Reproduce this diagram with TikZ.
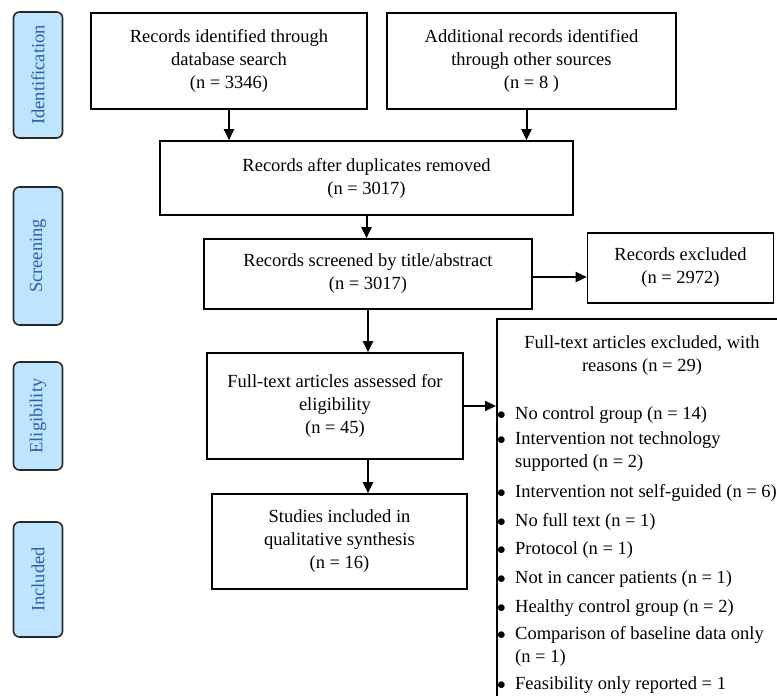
\documentclass[tikz,border=0pt]{standalone}
\usepackage{fontspec}
\setmainfont{Liberation Serif}
\usetikzlibrary{arrows.meta, positioning}
\definecolor{phasefill}{RGB}{191,228,255}
\definecolor{phasetext}{RGB}{46,96,170}
\definecolor{phasedraw}{RGB}{40,40,40}
\newcommand{\fsz}{\fontsize{18.5}{23}\selectfont}
\newcommand{\rdot}{$\bullet$}
\tikzset{
  % PRISMA flow boxes
  flowbox/.style={
    rectangle, draw=black, line width=1.6pt, fill=white,
    align=center, font=\fsz, inner sep=2pt
  },
  % phase labels on the left (rotated)
  phasebox/.style={
    rectangle, rounded corners=6pt, draw=phasedraw, fill=phasefill,
    line width=1.6pt, rotate=90, text=phasetext, font=\fsz,
    minimum height=49pt, inner sep=0pt
  },
  flowarrow/.style={-{Triangle[length=11pt,width=10pt]}, line width=2pt},
  reason/.style={anchor=west, font=\fsz, text height=13pt, text depth=4pt, inner sep=0pt}
}

\begin{document}
\begin{tikzpicture}[x=1pt, y=-1pt]
  \useasboundingbox (0,0) rectangle (777,696);
  \clip (0,0) rectangle (777,696);

  % Phases
  \node[phasebox, minimum width=126pt] (idph) at (38,75) {Identification};
  \node[phasebox, minimum width=138pt] (scph) at (38,256) {Screening};
  \node[phasebox, minimum width=108pt] (elph) at (38,416) {Eligibility};
  \node[phasebox, minimum width=115pt] (inph) at (38,579.5) {Included};

  % Identification
  \node[flowbox, minimum width=276pt, minimum height=96pt] (dbsearch) at (229,61)
    {Records identified through\\database search\\(n = 3346)};
  \node[flowbox, minimum width=289pt, minimum height=96pt] (other) at (531.5,61)
    {Additional records identified\\through other sources\\(n = 8 )};
  \node[flowbox, minimum width=413pt, minimum height=74pt] (dupl) at (366.5,178)
    {Records after duplicates removed\\(n = 3017)};

  % Screening
  \node[flowbox, minimum width=328pt, minimum height=70pt] (screen) at (368,274)
    {Records screened by title/abstract\\(n = 3017)};
  \node[flowbox, minimum width=186pt, minimum height=70pt] (excl) at (680.5,268)
    {Records excluded\\(n = 2972)};

  % Eligibility
  \node[flowbox, minimum width=256pt, minimum height=106pt] (fulltext) at (335,406)
    {Full-text articles assessed for\\eligibility\\(n = 45)};
  \node[flowbox, anchor=north west, minimum width=330pt, minimum height=420pt] (reasons) at (496,318) {};
  \node[font=\fsz, align=center] (rshead) at (642,356)
    {Full-text articles excluded, with\\reasons (n = 29)};
  \foreach \yy/\bl/\txt [count=\k] in {
      415/1/No control group (n = 14),
      440/1/Intervention not technology,
      463/0/supported (n = 2),
      493/1/Intervention not self-guided (n = 6),
      522/1/No full text (n = 1),
      550/1/Protocol (n = 1),
      579/1/Not in cancer patients (n = 1),
      608/1/Healthy control group (n = 2),
      635/1/Comparison of baseline data only,
      658/0/(n = 1),
      685/1/Feasibility only reported = 1}
    \node[reason] (rs\k) at (497,\yy)
      {\makebox[18pt][l]{\ifnum\bl=1 \rdot\fi}\txt};

  % Included
  \node[flowbox, minimum width=255pt, minimum height=95pt] (included) at (339.5,541.5)
    {Studies included in\\qualitative synthesis\\(n = 16)};

  % Connectors
  \draw[flowarrow] (dbsearch.south) -- (dbsearch.south |- dupl.north);
  \draw[flowarrow] ([xshift=-5pt]other.south) -- ([xshift=-5pt]other.south |- dupl.north);
  \draw[flowarrow] (dupl.south) -- (dupl.south |- screen.north);
  \draw[flowarrow] ([yshift=-3pt]screen.east) -- ([yshift=-3pt]screen.east -| excl.west);
  \draw[flowarrow] (screen.south) -- (screen.south |- fulltext.north);
  \draw[flowarrow] (fulltext.east) -- (fulltext.east -| reasons.west);
  \draw[flowarrow] (fulltext.south -| screen.south) -- (included.north -| screen.south);
\end{tikzpicture}
\end{document}
